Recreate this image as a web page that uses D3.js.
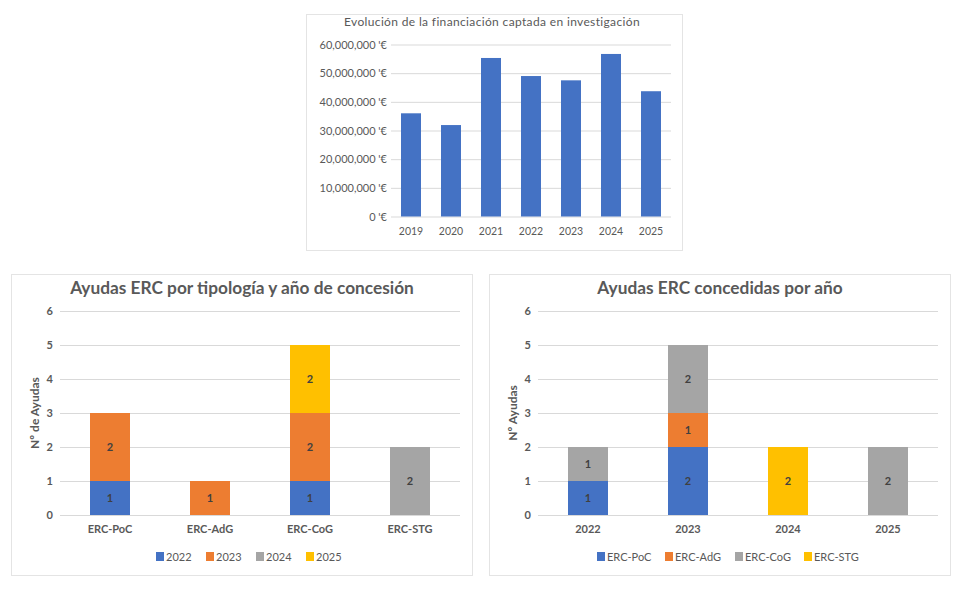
<!DOCTYPE html>
<html lang="es">
<head>
<meta charset="UTF-8" />
<title>Ayudas ERC</title>
<script src="https://d3js.org/d3.v7.min.js"></script>
<style>
  body { margin: 0; background: #fff; font-family: Lato, "Open Sans", sans-serif; }
  svg { display: block; }
</style>
</head>
<body>
<svg id="chart" width="964" height="591"></svg>
<script>
// --- data ---
const fundYears = ["2019", "2020", "2021", "2022", "2023", "2024", "2025"];
const fundValues = [36000000, 31900000, 55300000, 49000000, 47500000, 56700000, 43700000];
const fundTicks = [0, 10000000, 20000000, 30000000, 40000000, 50000000, 60000000];

const ercTypes = ["ERC-PoC", "ERC-AdG", "ERC-CoG", "ERC-STG"];
const grantYears = ["2022", "2023", "2024", "2025"];
// per type, one value per year (left chart)
const byType2022 = [1, 0, 1, 0];
const byType2023 = [2, 1, 2, 0];
const byType2024 = [0, 0, 0, 2];
const byType2025 = [0, 0, 2, 0];
// per year, one value per type (right chart)
const byYearPoC = [1, 2, 0, 0];
const byYearAdG = [0, 1, 0, 0];
const byYearCoG = [1, 2, 0, 2];
const byYearSTG = [0, 0, 2, 0];
const countTicks = [0, 1, 2, 3, 4, 5, 6];

const colors = ["#4472C4", "#ED7D31", "#A5A5A5", "#FFC000"];
const textGrey = "#595959";
const gridGrey = "#D9D9D9";

const svg = d3.select("#chart");

// --- card frames ---
function card(x, y, w, h) {
  svg.append("rect").attr("x", x).attr("y", y).attr("width", w).attr("height", h)
    .attr("fill", "#fff").attr("stroke", "#e4e4e4").attr("stroke-width", 1);
}
card(306.5, 14.5, 376, 236);
card(11.5, 274.5, 461, 301);
card(489.5, 274.5, 461, 301);

// --- top chart: funding ---
{
  const left = 391, right = 671, top = 44.5, bottom = 216.5;
  const x = d3.scaleBand().domain(fundYears).range([left, right]).paddingInner(0.5).paddingOuter(0.25);
  const y = d3.scaleLinear().domain([0, 60000000]).range([bottom, top]);
  const g = svg.append("g");

  g.append("text").attr("x", 492).attr("y", 26).attr("text-anchor", "middle")
    .attr("font-size", 12).attr("fill", textGrey).attr("letter-spacing", 0.35)
    .text("Evolución de la financiación captada en investigación");

  const yAxis = d3.axisLeft(y).tickValues(fundTicks).tickSize(-(right - left)).tickPadding(4)
    .tickFormat(d => d3.format(",")(d) + " '€");
  g.append("g").attr("transform", `translate(${left},0)`).call(yAxis)
    .call(a => a.select(".domain").remove())
    .call(a => a.selectAll("line").attr("stroke", gridGrey))
    .call(a => a.selectAll("text").attr("fill", textGrey).attr("font-size", 11).attr("font-family", "Lato, sans-serif"));

  g.selectAll("rect.bar").data(fundValues).join("rect").attr("class", "bar")
    .attr("x", (d, i) => x(fundYears[i])).attr("width", x.bandwidth())
    .attr("y", d => y(d)).attr("height", d => y(0) - y(d)).attr("fill", colors[0]);

  const xAxis = d3.axisBottom(x).tickSize(0).tickPadding(11);
  g.append("g").attr("transform", `translate(0,${bottom})`).call(xAxis)
    .call(a => a.select(".domain").remove())
    .call(a => a.selectAll("text").attr("fill", textGrey).attr("font-size", 10.5).attr("font-family", "Lato, sans-serif"));
}

// --- stacked charts ---
function stacked(opts) {
  const { ox, title, yLabel, cats, keys, series, legendX } = opts;
  const left = ox + 50, right = ox + 450, top = 311, bottom = 515;
  const g = svg.append("g");
  const x = d3.scaleBand().domain(cats).range([left, right]).paddingInner(0.6).paddingOuter(0.3);
  const y = d3.scaleLinear().domain([0, 6]).range([bottom, top]);

  g.append("text").attr("x", ox + 232).attr("y", 294).attr("text-anchor", "middle")
    .attr("font-size", 17.3).attr("font-weight", "bold").attr("fill", textGrey).text(title);

  g.append("g").attr("transform", `translate(${left},0)`)
    .call(d3.axisLeft(y).tickValues(countTicks).tickSize(-(right - left)).tickPadding(7).tickFormat(d3.format("d")))
    .call(a => a.select(".domain").remove())
    .call(a => a.selectAll("line").attr("stroke", gridGrey).attr("stroke-width", 1.2))
    .call(a => a.selectAll("text").attr("fill", textGrey).attr("font-size", 11).attr("font-weight", "bold").attr("font-family", "Lato, sans-serif"));

  g.append("text").attr("transform", `translate(${ox + 25},${(top + bottom) / 2}) rotate(-90)`)
    .attr("text-anchor", "middle").attr("dy", "0.35em").attr("font-size", 12).attr("font-weight", "bold")
    .attr("fill", textGrey).text(yLabel);

  const rows = cats.map((c, i) => {
    const r = { cat: c };
    keys.forEach((k, j) => { r[k] = series[j][i]; });
    return r;
  });
  const layers = d3.stack().keys(keys)(rows);

  layers.forEach((layer, j) => {
    const segs = layer.filter(s => s[1] - s[0] > 0);
    g.selectAll(null).data(segs).join("rect")
      .attr("x", s => x(s.data.cat)).attr("width", x.bandwidth())
      .attr("y", s => y(s[1])).attr("height", s => y(s[0]) - y(s[1]))
      .attr("fill", colors[j]);
    g.selectAll(null).data(segs).join("text")
      .attr("x", s => x(s.data.cat) + x.bandwidth() / 2)
      .attr("y", s => (y(s[0]) + y(s[1])) / 2).attr("dy", "0.36em")
      .attr("text-anchor", "middle").attr("font-size", 11).attr("font-weight", "bold")
      .attr("fill", "#404040").text(s => s[1] - s[0]);
  });

  g.append("g").attr("transform", `translate(0,${bottom})`)
    .call(d3.axisBottom(x).tickSize(0).tickPadding(10))
    .call(a => a.select(".domain").remove())
    .call(a => a.selectAll("text").attr("fill", textGrey).attr("font-size", 11).attr("font-weight", "bold").attr("font-family", "Lato, sans-serif"));

  const lg = g.append("g");
  keys.forEach((k, j) => {
    lg.append("rect").attr("x", legendX[j]).attr("y", 552).attr("width", 8).attr("height", 9).attr("fill", colors[j]);
    lg.append("text").attr("x", legendX[j] + 10).attr("y", 557).attr("dy", "0.35em")
      .attr("font-size", 11).attr("fill", textGrey).text(k);
  });
}

stacked({
  ox: 10, title: "Ayudas ERC por tipología y año de concesión", yLabel: "Nº de Ayudas",
  cats: ercTypes, keys: grantYears, series: [byType2022, byType2023, byType2024, byType2025],
  legendX: [156, 206, 256, 306]
});
stacked({
  ox: 488, title: "Ayudas ERC concedidas por año", yLabel: "Nº Ayudas",
  cats: grantYears, keys: ercTypes, series: [byYearPoC, byYearAdG, byYearCoG, byYearSTG],
  legendX: [597, 665, 735, 804]
});
</script>
</body>
</html>
